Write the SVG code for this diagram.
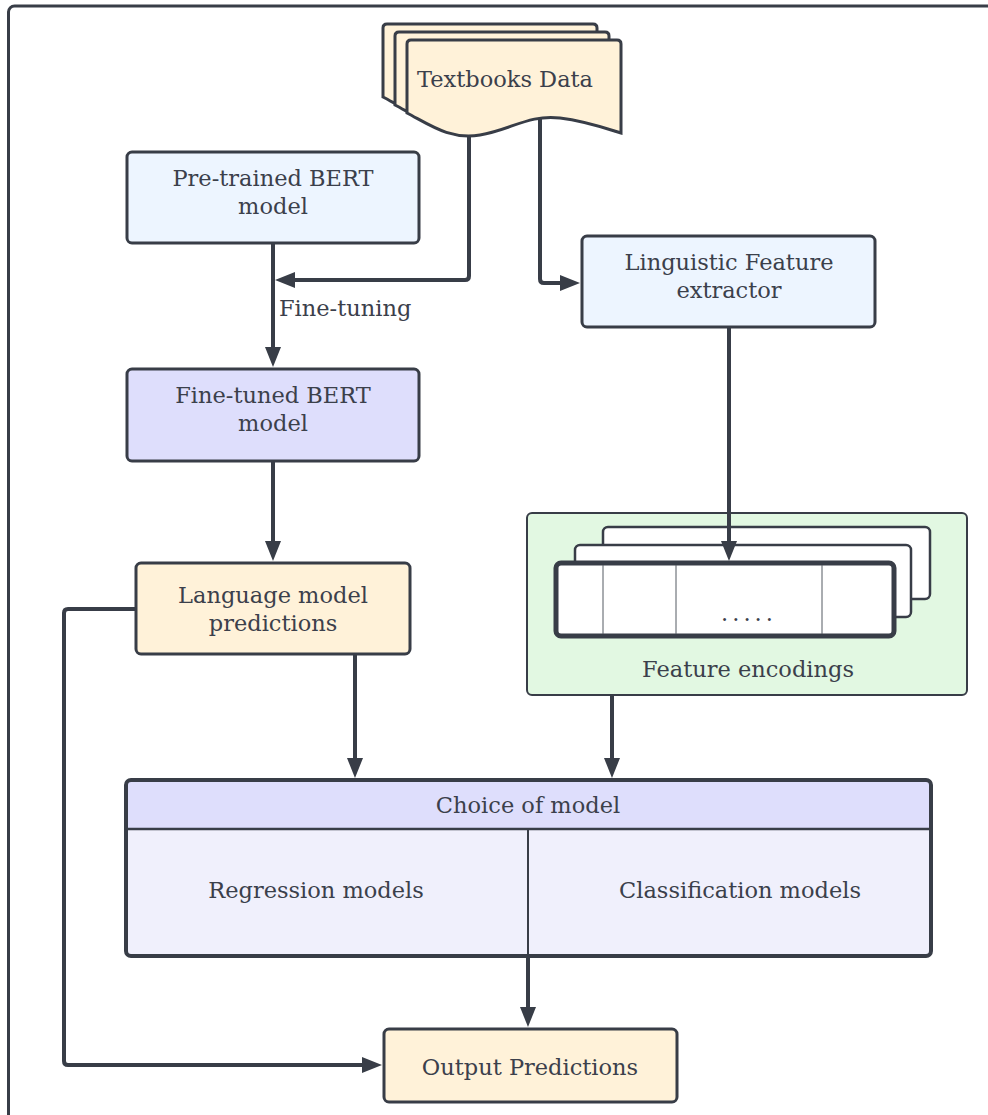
<svg xmlns="http://www.w3.org/2000/svg" width="988" height="1115" viewBox="0 0 988 1115">
<defs>
<style>
.t{font-family:"DejaVu Serif","Liberation Serif",serif;font-size:22.5px;fill:#3b404b;text-anchor:middle}
.box{stroke:#383d47;stroke-width:3}
.ln{fill:none;stroke:#383d47;stroke-width:4;stroke-linejoin:round}
</style>
<marker id="ah" markerUnits="userSpaceOnUse" markerWidth="20" markerHeight="16" viewBox="0 0 20 16" refX="2" refY="8" orient="auto">
<path d="M0,0 L20,8 L0,16 Z" fill="#383d47"/>
</marker>
<path id="doc" d="M411,40 L617,40 Q621,40 621,44 L621,133 C605,128 585,121 560,118 C530,114 510,130 480,135 C450,140 430,125 407,113 L407,44 Q407,40 411,40 Z"/>
</defs>
<rect x="8.5" y="6" width="1100" height="1200" rx="6" fill="#ffffff" stroke="#383d47" stroke-width="3"/>

<g id="textbooks">
<use href="#doc" transform="translate(-24,-16)" fill="#fff2d9" class="box"/>
<use href="#doc" transform="translate(-12,-8)" fill="#fff2d9" class="box"/>
<use href="#doc" fill="#fff2d9" class="box"/>
<text class="t" x="505" y="87">Textbooks Data</text>
</g>

<g id="pretrained">
<rect class="box" x="127" y="152" width="292" height="91" rx="5" fill="#edf5ff"/>
<text class="t" x="273" y="186">Pre-trained BERT</text>
<text class="t" x="273" y="214">model</text>
</g>

<g id="finetuned">
<rect class="box" x="127" y="369" width="292" height="92" rx="5" fill="#dedefc"/>
<text class="t" x="273" y="403">Fine-tuned BERT</text>
<text class="t" x="273" y="431">model</text>
</g>

<g id="lmpred">
<rect class="box" x="136" y="563" width="274" height="91" rx="5" fill="#fff2d9"/>
<text class="t" x="273" y="603">Language model</text>
<text class="t" x="273" y="631">predictions</text>
</g>

<g id="linguistic">
<rect class="box" x="582" y="236" width="293" height="91" rx="5" fill="#edf5ff"/>
<text class="t" x="729" y="270">Linguistic Feature</text>
<text class="t" x="729" y="298">extractor</text>
</g>

<g id="featenc">
<rect x="527" y="513" width="440" height="182" rx="5" fill="#e2f8e2" stroke="#383d47" stroke-width="2"/>
<rect x="603" y="527" width="327" height="72" rx="5" fill="#ffffff" stroke="#383d47" stroke-width="2.5"/>
<rect x="575" y="545" width="336" height="72" rx="5" fill="#ffffff" stroke="#383d47" stroke-width="2.5"/>
<rect x="556" y="563" width="338" height="73" rx="5" fill="#ffffff" stroke="#383d47" stroke-width="5"/>
<line x1="603" y1="565" x2="603" y2="634" stroke="#555a63" stroke-width="1"/>
<line x1="676" y1="565" x2="676" y2="634" stroke="#555a63" stroke-width="1"/>
<line x1="822" y1="565" x2="822" y2="634" stroke="#555a63" stroke-width="1"/>
<text class="t" x="749" y="621" style="letter-spacing:4px">.....</text>
<text class="t" x="748" y="677">Feature encodings</text>
</g>

<g id="choice">
<rect x="126" y="780" width="805" height="176" rx="5" fill="#f0f0fc"/>
<path d="M126,829 L126,785 Q126,780 131,780 L926,780 Q931,780 931,785 L931,829 Z" fill="#dedefc"/>
<line x1="126" y1="829" x2="931" y2="829" stroke="#383d47" stroke-width="2.5"/>
<line x1="528" y1="829" x2="528" y2="956" stroke="#383d47" stroke-width="2"/>
<rect x="126" y="780" width="805" height="176" rx="5" fill="none" stroke="#383d47" stroke-width="4"/>
<text class="t" x="528" y="813">Choice of model</text>
<text class="t" x="316" y="898">Regression models</text>
<text class="t" x="740" y="898">Classification models</text>
</g>

<g id="output">
<rect class="box" x="384" y="1029" width="293" height="73" rx="5" fill="#fff2d9"/>
<text class="t" x="530" y="1075">Output Predictions</text>
</g>

<g id="connectors">
<path class="ln" d="M469,136 L469,276 Q469,280 465,280 L293,280" marker-end="url(#ah)"/>
<path class="ln" d="M540,119 L540,279 Q540,283 544,283 L562,283" marker-end="url(#ah)"/>
<path class="ln" d="M273,244 L273,349" marker-end="url(#ah)"/>
<path class="ln" d="M273,462 L273,543" marker-end="url(#ah)"/>
<path class="ln" d="M729,328 L729,543" marker-end="url(#ah)"/>
<path class="ln" d="M355,655 L355,760" marker-end="url(#ah)"/>
<path class="ln" d="M612,696 L612,760" marker-end="url(#ah)"/>
<path class="ln" d="M528,957 L528,1009" marker-end="url(#ah)"/>
<path class="ln" d="M135,609 L68,609 Q64,609 64,613 L64,1061 Q64,1065 68,1065 L364,1065" marker-end="url(#ah)"/>
<text class="t" x="279" y="316" style="text-anchor:start">Fine-tuning</text>
</g>
</svg>
